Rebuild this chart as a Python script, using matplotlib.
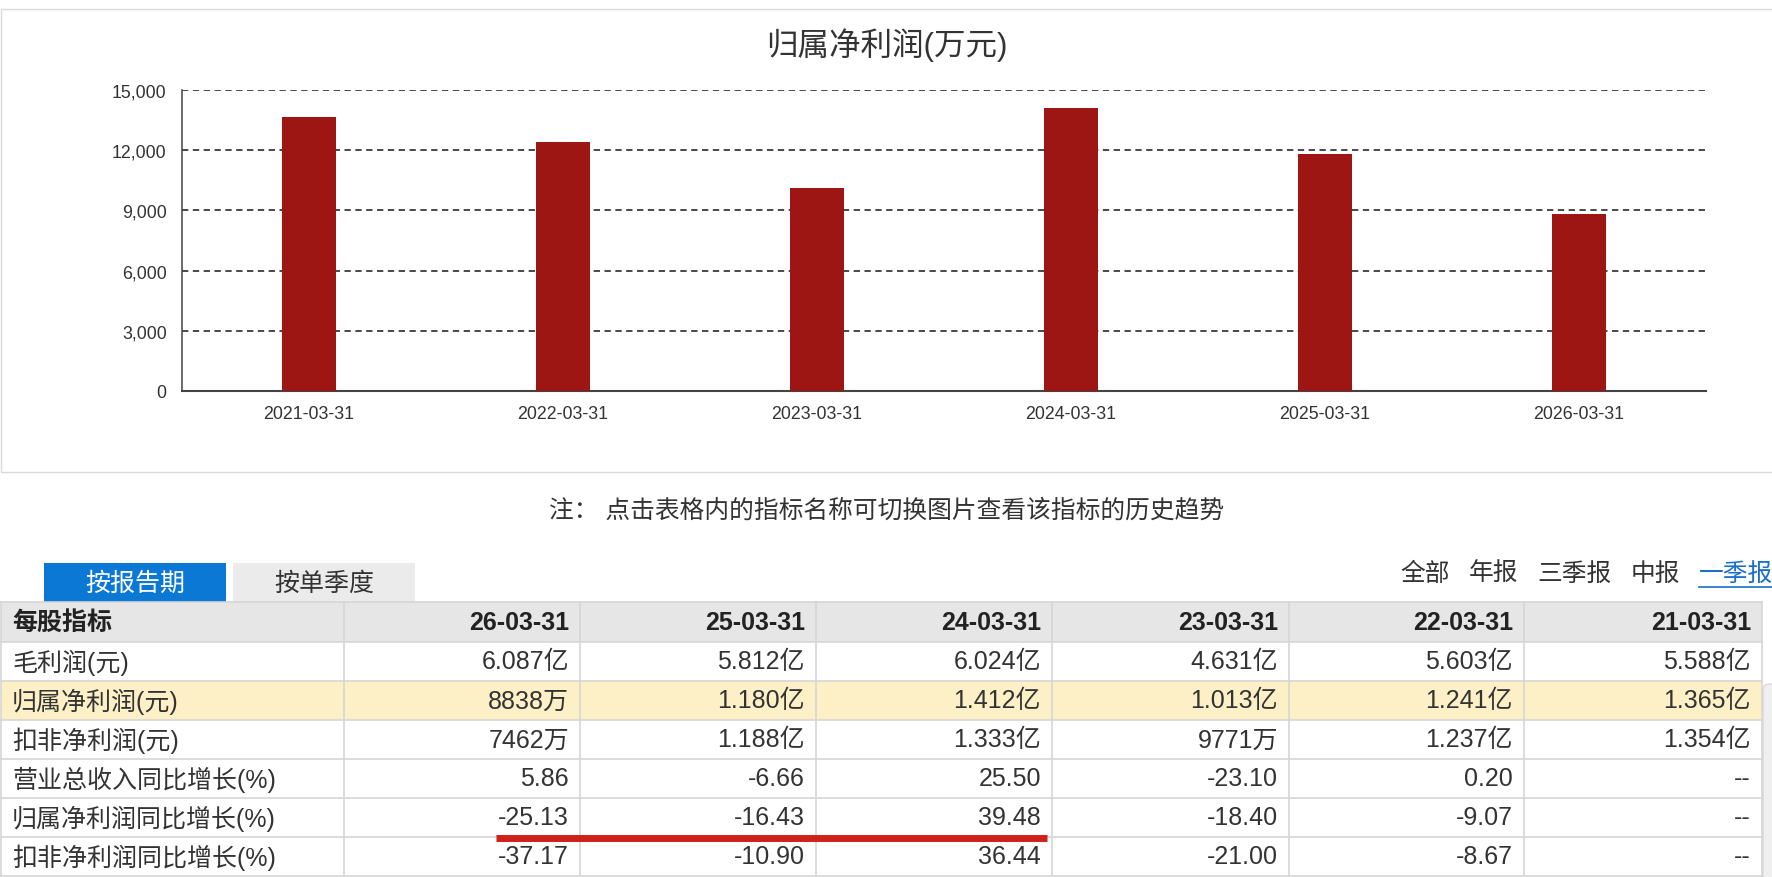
import matplotlib
matplotlib.use("Agg")
import matplotlib.pyplot as plt
from matplotlib.patches import Rectangle, FancyBboxPatch
from matplotlib.ticker import FuncFormatter

plt.rcParams['font.family'] = ['Liberation Sans', 'Noto Sans CJK SC', 'DejaVu Sans']

# 图表数据
periods = ['2021-03-31', '2022-03-31', '2023-03-31', '2024-03-31', '2025-03-31', '2026-03-31']
net_profit = [13650, 12410, 10130, 14120, 11800, 8838]  # 万元
y_ticks = [0, 3000, 6000, 9000, 12000, 15000]

# 表格数据
table_cols = ['26-03-31', '25-03-31', '24-03-31', '23-03-31', '22-03-31', '21-03-31']
row_names = ['毛利润(元)', '归属净利润(元)', '扣非净利润(元)', '营业总收入同比增长(%)',
             '归属净利润同比增长(%)', '扣非净利润同比增长(%)']
gross_profit = ['6.087亿', '5.812亿', '6.024亿', '4.631亿', '5.603亿', '5.588亿']
parent_profit = ['8838万', '1.180亿', '1.412亿', '1.013亿', '1.241亿', '1.365亿']
deducted_profit = ['7462万', '1.188亿', '1.333亿', '9771万', '1.237亿', '1.354亿']
revenue_yoy = ['5.86', '-6.66', '25.50', '-23.10', '0.20', '--']
parent_yoy = ['-25.13', '-16.43', '39.48', '-18.40', '-9.07', '--']
deducted_yoy = ['-37.17', '-10.90', '36.44', '-21.00', '-8.67', '--']
table_rows = [gross_profit, parent_profit, deducted_profit, revenue_yoy, parent_yoy, deducted_yoy]
tabs = ['按报告期', '按单季度']
filters = ['全部', '年报', '三季报', '中报', '一季报']

W, H = 1772, 878
fig = plt.figure(figsize=(W / 100, H / 100), dpi=100)


def fx(x):
    return x / W


def fy(y):
    return 1 - y / H


def box(x0, y0, x1, y1, **kw):
    fig.patches.append(Rectangle((fx(x0), fy(y1)), (x1 - x0) / W, (y1 - y0) / H,
                                 transform=fig.transFigure, **kw))


def ftext(x, y, s, **kw):
    fig.text(fx(x), fy(y), s, **kw)


# 图表外框
box(1, 10, W + 5, 473, facecolor='none', edgecolor='#d9d9d9', lw=1)

ax = fig.add_axes([fx(182), fy(392), (1706 - 182) / W, (392 - 91) / H])
ax.set_facecolor('none')
x = range(len(periods))
ax.bar(x, net_profit, width=0.213, color='#9e1613', zorder=3)
ax.set_xlim(-0.5, 5.5)
ax.set_ylim(0, 15000)
ax.set_yticks(y_ticks)
ax.yaxis.set_major_formatter(FuncFormatter(lambda v, p: f'{v:,.0f}'))
ax.set_xticks(list(x))
ax.set_xticklabels(periods)
ax.tick_params(length=0, labelsize=12.8, colors='#333333')
ax.tick_params(axis='y', pad=11)
ax.tick_params(axis='x', pad=10)
for s in ['top', 'right']:
    ax.spines[s].set_visible(False)
ax.spines['left'].set_color('#444444')
ax.spines['left'].set_linewidth(1.1)
ax.spines['bottom'].set_color('#444444')
ax.spines['bottom'].set_linewidth(1.5)
for t in y_ticks[1:]:
    ax.axhline(t, color='#3a3a3a', lw=1.3, dashes=(3.5, 2.5), zorder=1)

ftext(887, 45, '归属净利润(万元)', fontsize=22.7, color='#333333', ha='center', va='center')
ftext(887, 511, '注： 点击表格内的指标名称可切换图片查看该指标的历史趋势', fontsize=17.8,
      color='#333333', ha='center', va='center')

# 标签页
tab_x = [(44, 226), (233, 415)]
for (x0, x1), name, active in zip(tab_x, tabs, [True, False]):
    box(x0, 564, x1, 603, facecolor='#0a78d4' if active else '#ebebeb', edgecolor='none')
    ftext((x0 + x1) / 2, 584, name, fontsize=18, ha='center', va='center',
          color='white' if active else '#333333')

filter_x = [1400, 1469, 1537, 1631, 1699]
for fxp, name in zip(filter_x, filters):
    is_link = name == '一季报'
    ftext(fxp, 574, name, fontsize=17.8, ha='left', va='center',
          color='#1a6fc9' if is_link else '#333333')
fig.lines.append(plt.Line2D([fx(1699), fx(W)], [fy(588), fy(588)], transform=fig.transFigure,
                            color='#1a6fc9', lw=1.2))

# 表格
col_edges = [1, 344, 580, 816, 1052, 1289, 1524, 1762]
row_top = 603
head_h = 40
row_h = 39
row_edges = [row_top, row_top + head_h] + [row_top + head_h + row_h * (i + 1) for i in range(len(row_names))]

box(col_edges[0], row_edges[0], col_edges[-1], row_edges[1], facecolor='#e6e6e6', edgecolor='none')
box(col_edges[0], row_edges[2], col_edges[-1], row_edges[3], facecolor='#fdf0c6', edgecolor='none')

line_kw = dict(transform=fig.transFigure, color='#d6d6d6', lw=1.2)
for yy in row_edges:
    fig.lines.append(plt.Line2D([fx(col_edges[0]), fx(col_edges[-1])], [fy(yy), fy(yy)], **line_kw))
for xx in col_edges:
    fig.lines.append(plt.Line2D([fx(xx), fx(xx)], [fy(row_edges[0]), fy(row_edges[-1])], **line_kw))

fs = 18
hy = (row_edges[0] + row_edges[1]) / 2
ftext(col_edges[0] + 11, hy, '每股指标', fontsize=fs, fontweight='bold', color='#222222',
      ha='left', va='center')
for j, c in enumerate(table_cols):
    ftext(col_edges[j + 2] - 11, hy, c, fontsize=fs, fontweight='bold', color='#222222',
          ha='right', va='center')

for i, (name, vals) in enumerate(zip(row_names, table_rows)):
    cy = (row_edges[i + 1] + row_edges[i + 2]) / 2
    ftext(col_edges[0] + 11, cy, name, fontsize=fs, color='#333333', ha='left', va='center')
    for j, v in enumerate(vals):
        ftext(col_edges[j + 2] - 11, cy, v, fontsize=fs, color='#333333', ha='right', va='center')

# 红色标注线
fig.lines.append(plt.Line2D([fx(496), fx(1047)], [fy(839), fy(839)], transform=fig.transFigure,
                            color='#d11f1a', lw=5, solid_capstyle='butt'))

# 右侧滚动条
fig.patches.append(FancyBboxPatch((fx(1763), fy(H + 10)), 20 / W, (H + 10 - 685) / H,
                                  boxstyle='round,pad=0,rounding_size=0.005',
                                  transform=fig.transFigure, facecolor='#efefef',
                                  edgecolor='#d8d8d8', lw=1))

fig.savefig('out.png', dpi=100)
